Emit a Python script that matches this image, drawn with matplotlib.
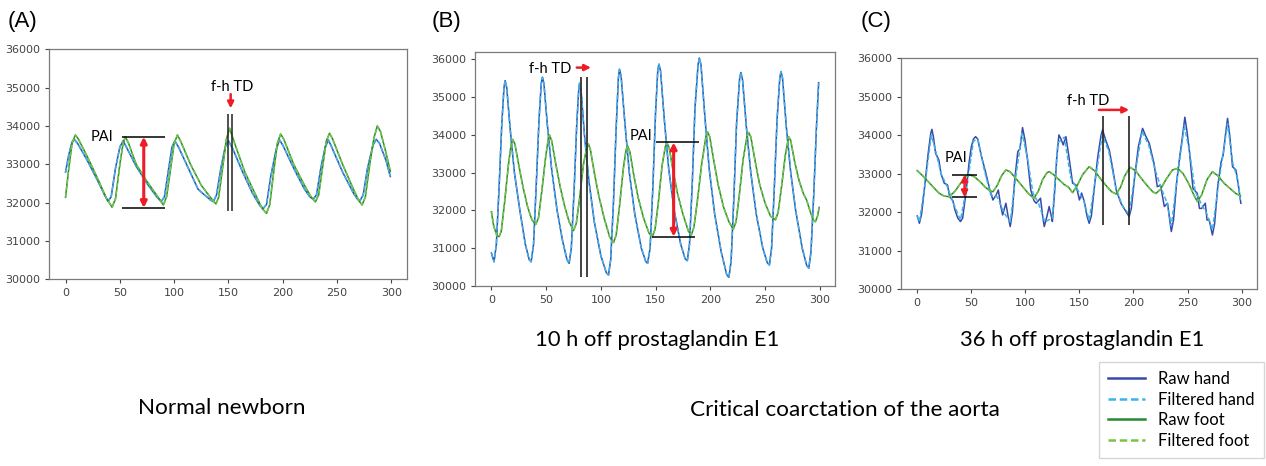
import matplotlib
matplotlib.use("Agg")
import matplotlib.pyplot as plt
from matplotlib.lines import Line2D

# ---------------- data (sample index, signal) ----------------
a_hand = [(0, 32800), (3, 33250), (6, 33580), (8, 33650), (11, 33550), (20, 33100), (30, 32550),
          (36, 32200), (39, 32035), (42, 32150), (46, 32900), (50, 33450), (53, 33610), (56, 33450),
          (65, 32950), (75, 32500), (84, 32150), (88, 32025), (91, 32150), (95, 32900), (98, 33450),
          (100.6, 33610), (104, 33450), (113, 32900), (122, 32350), (128, 32200), (133, 32080),
          (136, 32025), (139, 32200), (143, 32900), (147, 33450), (150, 33610), (154, 33400),
          (163, 32800), (172, 32250), (179, 31920), (182, 31850), (185, 31950), (189, 32700),
          (194, 33400), (197, 33635), (200, 33500), (210, 32900), (220, 32350), (225, 32150),
          (228, 32090), (231, 32200), (235, 32900), (239, 33450), (242, 33635), (245, 33450),
          (255, 32800), (265, 32250), (269, 32080), (271, 32050), (274, 32200), (278, 32900),
          (283, 33500), (286, 33650), (289, 33550), (295, 33100), (299, 32680)]

a_foot = [(0, 32140), (3, 32900), (6, 33550), (9, 33765), (12, 33650), (20, 33200), (30, 32600),
          (37, 32150), (42.8, 31880), (46, 32100), (50, 33000), (53, 33550), (55, 33720), (58, 33550),
          (65, 33000), (75, 32550), (85, 32150), (90, 31940), (93, 32150), (97, 32950), (100, 33550),
          (103, 33765), (106, 33600), (115, 33000), (125, 32450), (133, 32150), (138.5, 31965),
          (141, 32150), (145, 33000), (148, 33650), (151, 33940), (155, 33600), (165, 32800),
          (175, 32200), (181, 31850), (185, 31720), (188, 31950), (192, 32900), (195, 33550),
          (198, 33790), (201, 33650), (210, 33000), (220, 32450), (226, 32150), (230, 32020),
          (233, 32200), (237, 33000), (240, 33600), (243, 33810), (246, 33650), (255, 33000),
          (265, 32350), (270, 32050), (273, 31940), (276, 32150), (280, 33000), (284, 33700),
          (287, 34000), (290, 33850), (295, 33300), (299, 32810)]

b_hand = [(0, 30870), (2.4, 30640), (4.5, 31100), (7, 32600), (9.5, 34300), (11.5, 35250), (12.5, 35435),
          (14, 35250), (17, 34200), (21, 33000), (26, 32000), (31, 31100), (34.5, 30700), (36.3, 30640),
          (38.5, 31100), (41, 32700), (43.5, 34400), (45.5, 35350), (46.6, 35525), (48, 35350),
          (51, 34300), (55, 33100), (60, 32000), (65, 31200), (69, 30700), (71, 30600), (73, 31000),
          (75.5, 32500), (78, 34300), (79.8, 35200), (80.5, 35365), (82, 35150), (85, 34000),
          (89, 32800), (94, 31700), (100, 30800), (105, 30350), (107, 30290), (109, 30700),
          (111.5, 32200), (114, 34200), (116, 35500), (117, 35735), (118.5, 35550), (122, 34300),
          (126, 33000), (131, 31900), (137, 31000), (141, 30650), (142.7, 30600), (145, 31000),
          (147.5, 32600), (150, 34600), (152, 35700), (153, 35870), (154.5, 35700), (158, 34400),
          (162, 33100), (167, 32000), (173, 31100), (177, 30720), (179, 30670), (181, 31100),
          (183.5, 32700), (186, 34700), (188.8, 35850), (190, 36035), (191.5, 35850), (195, 34500),
          (199, 33100), (204, 31900), (210, 30900), (215, 30300), (217, 30230), (219, 30650),
          (221.5, 32300), (224, 34300), (226.8, 35500), (228, 35650), (229.5, 35450), (233, 34200),
          (237, 33000), (242, 31900), (248, 31000), (252, 30620), (254, 30555), (256, 31000),
          (258.5, 32600), (261, 34400), (263.5, 35500), (264.6, 35675), (266, 35500), (269.5, 34200),
          (273.5, 33000), (278, 32000), (284, 31000), (288, 30550), (290, 30470), (292, 30900),
          (294.5, 32400), (297, 34200), (299, 35380)]

b_foot = [(0, 31965), (2, 31600), (5, 31330), (7, 31305), (9, 31450), (12, 32200), (15.5, 33200),
          (18, 33750), (19.5, 33880), (21.5, 33750), (25, 33200), (29, 32600), (33, 32100), (37, 31750),
          (40.5, 31630), (43, 31800), (46, 32500), (49.5, 33400), (52, 33900), (53, 33995), (55, 33850),
          (59, 33200), (63, 32600), (67, 32100), (71, 31700), (75, 31465), (77.5, 31650), (80.5, 32300),
          (84, 33200), (87, 33650), (88.7, 33755), (90.5, 33600), (94, 33000), (98, 32400), (103, 31800),
          (108, 31300), (111.6, 31150), (114, 31350), (117, 32100), (120.5, 33100), (123, 33600),
          (124.4, 33705), (126.5, 33550), (130, 32950), (134, 32350), (139, 31800), (144, 31400),
          (147, 31305), (149.5, 31500), (152.5, 32200), (156, 33200), (159, 33700), (160.4, 33790),
          (162.5, 33650), (166, 33050), (170, 32450), (175, 31900), (180, 31450), (182.6, 31350),
          (185, 31550), (188, 32200), (192, 33200), (196, 33950), (197.6, 34075), (199.5, 33950),
          (203, 33350), (207, 32700), (212, 32100), (217, 31700), (221, 31500), (223.5, 31700),
          (226.5, 32400), (230, 33350), (233.5, 33950), (235, 34060), (237, 33950), (241, 33300),
          (245, 32700), (250, 32200), (255, 31850), (259.5, 31750), (262, 31950), (265, 32600),
          (268.5, 33450), (271.6, 33950), (273.5, 33850), (277, 33300), (281, 32800), (285, 32450),
          (288, 32275), (291, 32000), (294, 31750), (296, 31700), (298, 31850), (299.5, 32080)]

c_hand = [(0, 31905), (2, 31715), (4, 31950), (7, 32700), (10, 33500), (12.5, 34050), (13.6, 34155),
          (15, 33950), (17, 33530), (20, 33360), (22, 33000), (25, 32755), (28, 32710), (30, 32405),
          (33, 32300), (35, 32050), (37.5, 31850), (40, 31760), (42, 31850), (45, 32500), (48, 33300),
          (50, 33700), (52, 33900), (54, 33965), (56, 33900), (59, 33500), (63.5, 33010), (67, 32600),
          (70, 32320), (73, 32450), (75, 32580), (77, 32200), (79, 31930), (82, 32235), (84, 31900),
          (86, 31630), (88, 32000), (90, 32800), (93, 33575), (95, 33650), (97.4, 34200), (99.5, 33900),
          (102, 33360), (105, 32580), (108, 32300), (110, 32235), (114, 32365), (116, 31900),
          (117.5, 31630), (120, 31900), (122, 32150), (124, 31900), (125, 31760), (127, 32500),
          (129, 33400), (131, 34010), (133, 33900), (135, 33750), (137.5, 33965), (140, 33500),
          (143.7, 32755), (146.8, 32710), (150, 32320), (152, 32500), (154.5, 32280), (157, 31900),
          (159, 31715), (161, 31900), (164, 32700), (167, 33450), (170, 34000), (171.4, 34140),
          (174, 33900), (177.6, 33620), (181, 33100), (184, 32580), (188.4, 32235), (193, 32020),
          (196, 31890), (198, 32100), (201, 32900), (204.5, 33700), (208.4, 34180), (211, 34000),
          (214.6, 33790), (217, 33500), (219, 33270), (222, 32665), (225, 32700), (228.5, 32150),
          (231.5, 32235), (233.5, 31800), (235, 31500), (237, 31800), (240, 32800), (243, 33500),
          (245, 33900), (247.5, 34470), (249.5, 34100), (251.6, 33620), (255, 32620), (259, 32490),
          (261, 32100), (263, 32100), (266.4, 32235), (268, 31800), (270, 31800), (273, 31410),
          (275, 31700), (278, 32700), (281, 33300), (283, 33500), (285, 34000), (287, 34440),
          (289, 34000), (291.6, 33185), (294.7, 33100), (297, 32700), (299.3, 32235)]

c_hand_filt = [(0, 31900), (2, 31750), (7, 32700), (13, 34000), (17, 33600), (22, 33000), (28, 32650),
               (34, 32200), (40, 31800), (46, 32700), (52, 33850), (56, 33900), (62, 33100), (68, 32450),
               (74, 32400), (80, 32000), (86, 31750), (91, 32900), (97, 34050), (102, 33400), (107, 32500),
               (112, 32250), (118, 31750), (125, 31850), (130, 33800), (136, 33950), (142, 32900),
               (148, 32600), (154, 32300), (159, 31800), (165, 32900), (171, 34000), (177, 33600),
               (184, 32600), (190, 32150), (196, 31950), (202, 33100), (208, 34100), (214, 33750),
               (220, 33100), (226, 32600), (231, 32250), (235, 31650), (240, 32800), (247, 34250),
               (252, 33550), (257, 32550), (263, 32200), (268, 31950), (273, 31550), (279, 32800),
               (287, 34300), (292, 33250), (296, 32900), (299, 32300)]

c_foot = [(0, 33082), (5, 32950), (10, 32800), (15, 32650), (20, 32500), (25, 32420), (29.6, 32405),
          (35, 32550), (40, 32750), (45, 32930), (48.5, 32975), (53, 32920), (58, 32800), (63, 32650),
          (67, 32560), (70, 32535), (74, 32700), (78, 32950), (82, 33100), (86, 33050), (92, 32850),
          (98, 32650), (103, 32480), (108, 32365), (112, 32550), (116, 32850), (120, 33030),
          (122, 33055), (126, 32980), (131, 32850), (136, 32720), (140, 32650), (143.7, 32510),
          (148, 32700), (153, 32980), (159, 33185), (164, 33080), (170, 32850), (176, 32650),
          (180, 32530), (184, 32475), (188, 32650), (192, 32950), (196.7, 33170), (202, 33080),
          (208, 32850), (214, 32650), (218, 32530), (220.8, 32490), (225, 32600), (230, 32850),
          (236, 33100), (241, 33140), (246, 33000), (251, 32750), (255, 32500), (259, 32280),
          (263, 32450), (268, 32850), (273, 33055), (278, 32950), (284, 32750), (290, 32600),
          (295, 32480), (299, 32430)]

legend_labels = ["Raw hand", "Filtered hand", "Raw foot", "Filtered foot"]
panel_labels = ["(A)", "(B)", "(C)"]
x_ticks = [0, 50, 100, 150, 200, 250, 300]
y_ticks = [30000, 31000, 32000, 33000, 34000, 35000, 36000]

RAW_HAND = "#3949a8"
FILT_HAND = "#3ab4ea"
RAW_FOOT = "#238a35"
FILT_FOOT = "#79c447"
TXT_FONT = ["Lato", "DejaVu Sans"]


def xy(pts):
    return [p[0] for p in pts], [p[1] for p in pts]


def draw_panel(ax, hand, hand_f, foot, foot_f):
    ax.plot(*xy(hand), color=RAW_HAND, lw=1.1)
    ax.plot(*xy(hand_f), color=FILT_HAND, lw=1.1, ls=(0, (3, 1.5)))
    ax.plot(*xy(foot), color=RAW_FOOT, lw=1.1)
    ax.plot(*xy(foot_f), color=FILT_FOOT, lw=1.1, ls=(0, (3, 1.5)))
    ax.set_xticks(x_ticks)
    ax.set_yticks(y_ticks)
    ax.tick_params(labelsize=8, colors="#444444", length=3, width=0.8)
    for s in ax.spines.values():
        s.set_color("#7a7a7a")
        s.set_linewidth(0.9)


def red_arrow(ax, x0, y0, x1, y1, both=False, lw=2.2):
    style = "<|-|>" if both else "-|>"
    ax.annotate("", xy=(x1, y1), xytext=(x0, y0),
                arrowprops=dict(arrowstyle=style, color="#ee1c24", lw=lw,
                                mutation_scale=9, shrinkA=0, shrinkB=0))


fig = plt.figure(figsize=(12.66, 4.66), dpi=100)
ax_a = fig.add_axes([0.0389, 0.4006, 0.2823, 0.4936])
ax_b = fig.add_axes([0.3752, 0.3863, 0.2844, 0.5015])
ax_c = fig.add_axes([0.7117, 0.3792, 0.2810, 0.4957])

draw_panel(ax_a, a_hand, a_hand, a_foot, a_foot)
draw_panel(ax_b, b_hand, b_hand, b_foot, b_foot)
draw_panel(ax_c, c_hand, c_hand_filt, c_foot, c_foot)
for ax in (ax_a, ax_b, ax_c):
    ax.set_xlim(-15, 314)
ax_a.set_ylim(30000, 36000)
ax_b.set_ylim(30000, 36185)
ax_c.set_ylim(30000, 36000)

# ---- panel A annotations
ax_a.hlines([33720, 31860], 52, 92, color="black", lw=1.1)
red_arrow(ax_a, 72, 33720, 72, 31860, both=True)
ax_a.text(44, 33720, "PAI", ha="right", va="center", fontsize=10.5, family=TXT_FONT)
ax_a.vlines([150, 153], 31780, 34310, color="#222222", lw=1.1)
ax_a.text(153, 35010, "f-h TD", ha="center", va="center", fontsize=10.5, family=TXT_FONT)
red_arrow(ax_a, 152, 34830, 152, 34460, lw=1.8)

# ---- panel B annotations
ax_b.hlines(33800, 150, 189.3, color="black", lw=1.1)
ax_b.hlines(31305, 146.6, 186.3, color="black", lw=1.1)
red_arrow(ax_b, 166.5, 33800, 166.5, 31305, both=True)
ax_b.text(147, 33970, "PAI", ha="right", va="center", fontsize=10.5, family=TXT_FONT)
ax_b.vlines([81.4, 87.5], 30230, 35540, color="#333333", lw=1.3)
ax_b.text(54, 35735, "f-h TD", ha="center", va="center", fontsize=10.5, family=TXT_FONT)
red_arrow(ax_b, 78, 35780, 91, 35780, lw=1.8)

# ---- panel C annotations
ax_c.hlines([32980, 32390], 32, 55.5, color="black", lw=1.1)
red_arrow(ax_c, 43.8, 32980, 43.8, 32390, both=True, lw=1.8)
ax_c.text(35.8, 33400, "PAI", ha="center", va="center", fontsize=10.5, family=TXT_FONT)
ax_c.vlines([171.4, 196], 31670, 34500, color="#222222", lw=1.2)
ax_c.text(157.7, 34892, "f-h TD", ha="center", va="center", fontsize=10.5, family=TXT_FONT)
red_arrow(ax_c, 168, 34660, 196, 34660, lw=1.8)

# ---- panel letters and captions
for lab, px in zip(panel_labels, [8, 432, 861]):
    fig.text(px / 1266, 1 - 21 / 466, lab, ha="left", va="center", fontsize=16,
             family=["Liberation Sans", "DejaVu Sans"])

fig.text(657 / 1266, 1 - 340 / 466, "10 h off prostaglandin E1", ha="center", va="center",
         fontsize=15.8, family=TXT_FONT)
fig.text(1082 / 1266, 1 - 340 / 466, "36 h off prostaglandin E1", ha="center", va="center",
         fontsize=15.8, family=TXT_FONT)
fig.text(222 / 1266, 1 - 408 / 466, "Normal newborn", ha="center", va="center",
         fontsize=16.2, family=TXT_FONT)
fig.text(845 / 1266, 1 - 410 / 466, "Critical coarctation of the aorta", ha="center", va="center",
         fontsize=16.2, family=TXT_FONT)

handles = [Line2D([0], [0], color=RAW_HAND, lw=1.8),
           Line2D([0], [0], color=FILT_HAND, lw=1.8, ls=(0, (3, 1.5))),
           Line2D([0], [0], color=RAW_FOOT, lw=1.8),
           Line2D([0], [0], color=FILT_FOOT, lw=1.8, ls=(0, (3, 1.5)))]
fig.legend(handles, legend_labels, loc="upper left", bbox_to_anchor=(1099 / 1266, 1 - 362 / 466),
           prop={"family": TXT_FONT, "size": 12}, frameon=True, fancybox=False,
           edgecolor="#cccccc", handlelength=2.2, labelspacing=0.27, borderpad=0.55,
           handletextpad=0.8, borderaxespad=0)

fig.savefig("out.png", dpi=100)
